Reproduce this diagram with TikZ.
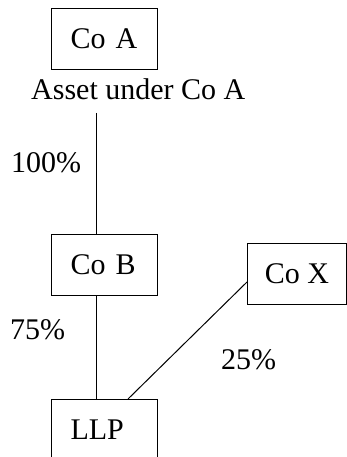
\documentclass[tikz,border=0pt]{standalone}
\usepackage{fontspec}
\setmainfont{Liberation Serif}
\usetikzlibrary{calc}
\begin{document}
\begin{tikzpicture}[x=1pt,y=1pt,
  every node/.style={font=\fontsize{30}{36}\selectfont},
  box/.style={draw,line width=1pt,minimum height=61pt,inner xsep=19pt,inner ysep=0pt,anchor=north west},
  lbox/.style={box,text width=68pt,align=left},
  lbl/.style={inner sep=0pt,anchor=base west},
  conn/.style={line width=1pt}]
\useasboundingbox (0,0) rectangle (347,457);
\node[lbox] (coA) at (51,449) {Co A};
\node[lbl] (asset) at (31,357) {Asset under Co A};
\node[lbox] (coB) at (51,223) {Co B};
\node[box,inner xsep=0pt,minimum width=99pt] (coX) at (247,214) {Co X};
\node[lbox] (llp) at (51,58) {LLP};
\node[lbl] (p100) at (11,284) {100\%};
\node[lbl] (p75) at (10,117) {75\%};
\node[lbl] (p25) at (221,87) {25\%};
\coordinate (top) at (96,344);
\draw[conn] (top) -- ([xshift=45pt]coB.north west);
\draw[conn] ([xshift=45pt]coB.south west) -- ([xshift=45pt]llp.north west);
\draw[conn] ([yshift=23pt]coX.south west) -- ([xshift=77pt]llp.north west);
\end{tikzpicture}
\end{document}
